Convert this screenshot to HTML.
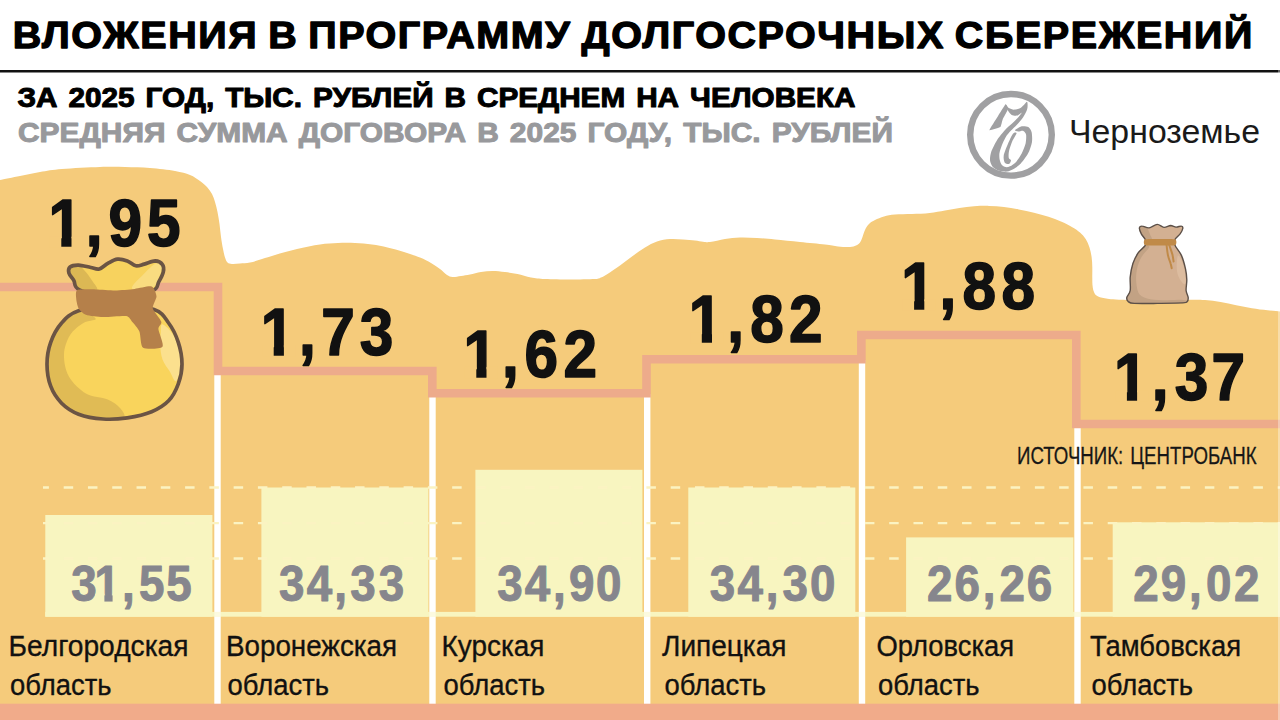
<!DOCTYPE html>
<html lang="ru">
<head>
<meta charset="utf-8">
<title>Вложения в программу долгосрочных сбережений</title>
<style>
html,body{margin:0;padding:0;background:#fff;}
body{width:1280px;height:720px;overflow:hidden;position:relative;font-family:"Liberation Sans",sans-serif;}
svg{display:block;position:absolute;left:0;top:0;}
text{font-family:"Liberation Sans",sans-serif;}
.b{font-weight:bold;}
.hv{paint-order:stroke fill;stroke-linejoin:round;}
#sub1,#sub2{word-spacing:2.5px;}
</style>
</head>
<body>
<svg width="1280" height="720" viewBox="0 0 1280 720">
<!-- sand background -->
<path id="sand" fill="#f5cb7b" d="M0,180 C3.3,179.3 13.3,177.3 20,176 C26.7,174.7 33,173.2 40,172 C47,170.8 52,169.8 62,169 C72,168.2 89.5,167.3 100,167 C110.5,166.7 116.7,166.8 125,167 C133.3,167.2 141.7,167.3 150,168 C158.3,168.7 168.3,169.8 175,171 C181.7,172.2 185.8,173.3 190,175 C194.2,176.7 197.2,179 200,181 C202.8,183 205,184.8 207,187 C209,189.2 210.7,191.5 212,194 C213.3,196.5 214.1,199 215,202 C215.9,205 216.8,208.3 217.5,212 C218.2,215.7 218.9,219.8 219.5,224 C220.1,228.2 220.4,232.8 221,237 C221.6,241.2 222.3,245.6 223,249 C223.7,252.4 224.2,255.2 225,257.5 C225.8,259.8 226.3,261.4 227.5,262.5 C228.7,263.6 229.9,263.8 232,264 C234.1,264.2 237,263.8 240,263.5 C243,263.2 246.3,263.2 250,262.5 C253.7,261.8 257.8,260.2 262,259 C266.2,257.8 269.2,256.7 275,255 C280.8,253.3 289.5,250.8 297,249 C304.5,247.2 313.2,245.5 320,244.5 C326.8,243.5 332.2,243.2 338,243 C343.8,242.8 349.3,242.8 355,243 C360.7,243.2 366.6,243.8 372,244.5 C377.4,245.2 382.2,246.2 387.5,247.5 C392.8,248.8 398.6,250.3 404,252 C409.4,253.7 415.5,255.7 420,257.5 C424.5,259.3 427.7,261.1 431,263 C434.3,264.9 437.3,267 440,269 C442.7,271 444.9,273.7 447,275 C449.1,276.3 450.2,276.8 452.5,277 C454.8,277.2 458.1,276.4 461,276 C463.9,275.6 466.7,275.2 470,274.5 C473.3,273.8 477.2,272.6 481,272 C484.8,271.4 488.5,271 492.5,271 C496.5,271 500.8,271.5 505,272 C509.2,272.5 513.2,273.1 517.5,274 C521.8,274.9 526.4,276.7 531,277.5 C535.6,278.3 538.5,278.7 545,279 C551.5,279.3 561.7,279.5 570,279.5 C578.3,279.5 589.8,279.3 595,279 C600.2,278.7 598.9,278.3 601,277.5 C603.1,276.7 604.3,276 607.5,274 C610.7,272 615.9,268.4 620,265.5 C624.1,262.6 627.8,259.5 632,256.5 C636.2,253.5 640.8,250 645,247.5 C649.2,245 652.8,242.9 657,241.5 C661.2,240.1 665.7,239.3 670,239 C674.3,238.7 678.8,239.2 683,239.5 C687.2,239.8 691.7,240.1 695,240.5 C698.3,240.9 700.5,241.4 703,241.7 C705.5,241.9 706.3,242.4 710,242 C713.7,241.6 720,239.8 725,239 C730,238.2 734.7,237.7 740,237.5 C745.3,237.3 751.2,237.7 757,238 C762.8,238.3 767.8,238.8 775,239.5 C782.2,240.2 791.7,241.2 800,242 C808.3,242.8 818.7,243.8 825,244.5 C831.3,245.2 833.8,246.1 838,246.5 C842.2,246.9 847,247.2 850,247 C853,246.8 854.3,246.2 856,245.5 C857.7,244.8 858.9,243.9 860,242.5 C861.1,241.1 861.7,239.1 862.5,237 C863.3,234.9 863.9,232.2 865,230 C866.1,227.8 867.3,225.7 869,224 C870.7,222.3 872.5,221.2 875,220 C877.5,218.8 880.7,217.4 884,216.5 C887.3,215.6 890.3,214.9 895,214.5 C899.7,214.1 906.2,214.2 912,214 C917.8,213.8 924.2,213.6 929.7,213 C935.2,212.4 940,211.3 945,210.5 C950,209.7 954.6,208.7 959.4,208 C964.2,207.3 969.1,206.7 974,206.3 C978.9,206 984,205.8 989,205.9 C994,206 999,206.4 1004,207 C1009,207.6 1013.8,208.4 1018.8,209.4 C1023.8,210.4 1029,211.6 1034,212.8 C1039,214 1044,215.4 1048.5,216.8 C1053,218.2 1057,219.8 1061,221.5 C1065,223.2 1069.1,225.4 1072.3,227.2 C1075.5,229 1077.8,230.5 1080,232.5 C1082.2,234.5 1084.1,236.6 1085.7,239.1 C1087.3,241.6 1088.5,244.5 1089.5,247.5 C1090.5,250.5 1091.1,253.8 1091.6,257 C1092.1,260.2 1092.2,263.5 1092.3,267 C1092.4,270.5 1092.2,274.8 1092.3,278 C1092.3,281.2 1092.3,283.8 1092.6,286 C1092.8,288.2 1093.1,289.9 1093.8,291.5 C1094.5,293.1 1094.9,294.4 1096.5,295.5 C1098.1,296.6 1099.7,297.4 1103.4,298.1 C1107.2,298.8 1109.6,299.4 1119,299.7 C1128.4,300 1148.3,300 1160,300 C1171.7,300 1181.9,299.7 1189.4,299.7 C1196.9,299.7 1199.8,299.6 1205,300 C1210.2,300.4 1215.4,301.1 1220.6,302 C1225.8,302.9 1231,304.1 1236.2,305.2 C1241.5,306.2 1246.7,307.4 1251.9,308.3 C1257.1,309.2 1262.8,309.8 1267.5,310.3 C1272.2,310.9 1277.9,311.4 1280,311.6 L1280,720 L0,720 Z"/>

<!-- header -->
<rect x="0" y="70" width="1280" height="2.5" fill="#111"/>
<text id="title" class="b hv" style="word-spacing:-2.5px" transform="translate(12.8,48.3) scale(1.05,1)" x="0" y="0" font-size="37.600" fill="#000" stroke="#000" stroke-width="1.300" textLength="1180.5" lengthAdjust="spacing">ВЛОЖЕНИЯ В ПРОГРАММУ ДОЛГОСРОЧНЫХ СБЕРЕЖЕНИЙ</text>
<text id="sub1" class="b hv" x="17.5" y="107.400" font-size="27.200" fill="#000" stroke="#000" stroke-width="1" textLength="838" lengthAdjust="spacingAndGlyphs">ЗА 2025 ГОД, ТЫС. РУБЛЕЙ В СРЕДНЕМ НА ЧЕЛОВЕКА</text>
<text id="sub2" class="b hv" x="18" y="142.400" font-size="27.200" fill="#98999c" stroke="#98999c" stroke-width="1" textLength="875" lengthAdjust="spacingAndGlyphs">СРЕДНЯЯ СУММА ДОГОВОРА В 2025 ГОДУ, ТЫС. РУБЛЕЙ</text>

<!-- logo emblem (graphic mark inside a ring) + wordmark as live text -->
<g id="logo">
<circle cx="1011" cy="134.800" r="40.800" fill="none" stroke="#a0a0a2" stroke-width="6.400"/>
<g fill="#a0a0a2">
<path d="M1005.6,104.2 C1004.9,104.7 998.6,114.9 997.6,116.7 C996.5,118.4 989.3,129.5 989.4,130.2 C989.6,130.9 999.5,127.8 1000.3,127.1 C1001.2,126.4 1002,120.9 1002.6,119.7 C1003.1,118.5 1007.8,110.1 1008,109.1 C1008.2,108.1 1006.3,103.7 1005.6,104.2 Z"/>
<path d="M1005.6,104.4 C1005.7,104.2 1007.8,107.3 1008.9,108 C1010,108.7 1012.5,109.6 1013.9,109.7 C1015.3,109.7 1018.1,109.2 1019.4,108.6 C1020.8,107.9 1022.9,105.8 1023.9,104.9 C1024.9,104 1026.8,101.3 1027.2,101.9 C1027.7,102.5 1027.8,107 1027.2,109.1 C1026.7,111.2 1024.4,115.4 1023,117.4 C1021.6,119.5 1018.5,122.9 1016.9,124.7 C1015.3,126.4 1012.3,129.1 1010.8,130.8 C1009.3,132.4 1007,134.9 1005.8,136.9 C1004.6,138.9 1002.5,143.6 1001.7,145.8 C1000.8,148 999.7,151.7 999.4,153.6 C999.2,155.4 999.4,158.2 999.7,159.7 C1000,161.1 1000.9,163.7 1001.7,164.7 C1002.5,165.7 1004.4,166.9 1005.6,167.1 C1006.7,167.3 1008.6,167 1010,166.3 C1011.4,165.6 1014.6,163.6 1016.1,161.9 C1017.7,160.2 1020.4,156 1021.7,153.6 C1022.9,151.1 1025,146.1 1025.6,143.6 C1026.1,141 1026.4,136.4 1026.1,134.7 C1025.8,133 1024.4,131.3 1023.3,130.9 C1022.3,130.5 1019.4,131.6 1018.3,131.6 C1017.2,131.5 1014.6,130.9 1015,130.2 C1015.4,129.5 1019.9,126.7 1021.7,126.3 C1023.4,125.9 1027,126.3 1028.3,127.1 C1029.7,127.9 1031.2,130.4 1031.7,132.4 C1032.1,134.5 1032.4,139.6 1031.9,142.4 C1031.4,145.3 1029.5,150.7 1028,153.6 C1026.5,156.4 1022.7,161.5 1020.8,163.6 C1018.9,165.6 1015.4,168 1013.6,169.1 C1011.7,170.2 1009.1,171.3 1007.2,171.6 C1005.3,171.8 1001.4,171.4 999.4,170.8 C997.5,170.2 994,168.3 992.8,166.9 C991.5,165.5 990.2,162.3 990,160.2 C989.8,158.1 990.5,154 991.4,151.3 C992.4,148.7 995.2,143 997,140.2 C998.8,137.4 1002.7,132.5 1004.8,130.2 C1006.9,127.9 1010.8,124.7 1012.6,123 C1014.3,121.3 1016.9,118.8 1018.1,117.4 C1019.3,116.1 1021.8,112.9 1021.7,112.7 C1021.5,112.4 1018.6,115.2 1017.2,115.6 C1015.9,115.9 1013,115.7 1011.7,115 C1010.4,114.3 1008.4,111.4 1007.6,110 C1006.7,108.6 1005.4,104.7 1005.6,104.4 Z"/>
<path d="M1013,133.8 C1011.8,135.2 1009.1,141.2 1007.9,144.1 C1006.6,147 1004.1,153.3 1003.7,155.8 C1003.3,158.3 1004.1,161.6 1004.8,162.7 C1005.5,163.8 1008.2,164.3 1009,164 C1009.8,163.7 1011,161.2 1011,160.4 C1011,159.6 1009,159.2 1008.8,158 C1008.5,156.8 1008.5,153.6 1009,151.3 C1009.5,149.1 1011.3,143.7 1012.3,141.3 C1013.3,138.9 1016.5,134.3 1016.6,133.3 C1016.6,132.3 1014.2,132.3 1013,133.8 Z"/>
</g>
<text x="1069" y="143" font-size="33" fill="#1a1a1a" textLength="191" lengthAdjust="spacingAndGlyphs">Черноземье</text>
</g>

<!-- white dividers -->
<g fill="#fff">
<rect x="214.300" y="372" width="6.400" height="332"/>
<rect x="429.300" y="394" width="6.400" height="310"/>
<rect x="644" y="394" width="6.400" height="310"/>
<rect x="858.800" y="360" width="6.400" height="344"/>
<rect x="1074.300" y="425" width="6.400" height="279"/>
</g>

<!-- light bars -->
<g fill="#f8f5c0">
<rect x="45.3" y="515" width="167.1" height="101.7"/>
<rect x="261.4" y="487.5" width="167" height="129.2"/>
<rect x="475.4" y="469.8" width="167" height="146.9"/>
<rect x="688.3" y="487.5" width="167" height="129.2"/>
<rect x="906.1" y="537.4" width="167.3" height="79.3"/>
<rect x="1112.7" y="522.3" width="167.3" height="94.4"/>

</g>
<rect x="45.300" y="611.900" width="1234.700" height="4.800" fill="#f8f5c0"/>
<g fill="#fff" opacity="0.5"><rect x="214.300" y="611.900" width="6.400" height="4.800"/><rect x="429.300" y="611.900" width="6.400" height="4.800"/><rect x="644" y="611.900" width="6.400" height="4.800"/><rect x="858.800" y="611.900" width="6.400" height="4.800"/><rect x="1074.300" y="611.900" width="6.400" height="4.800"/></g>
<g stroke="#fbf3c2" stroke-width="2.400" stroke-dasharray="9.500 14.780" stroke-dashoffset="3.600">
<line x1="43" y1="487.500" x2="1280" y2="487.500"/>
<line x1="43" y1="523.100" x2="1280" y2="523.100"/>
<line x1="43" y1="558.500" x2="1280" y2="558.500"/>
</g>

<!-- pink step line -->
<path fill="none" stroke="#edab8b" stroke-width="8.600" stroke-linejoin="miter" d="M-5,287 H218 V371 H432.300 V393.300 H646.500 V359.300 H861.400 V335 H1076.300 V424 H1285"/>

<!-- bottom strip -->
<rect x="0" y="703.700" width="1280" height="17" fill="#f1ab8a"/>

<rect x="1278" y="0" width="2" height="720" fill="#fff" opacity="0.35"/>

<!-- big money bag -->
<g id="bag">
<path d="M79.9,290.1 C73,287.1 75.6,283.2 73.8,280.4 C72,277.6 69.5,275.3 68.9,273.1 C68.3,270.9 68.5,268.4 70.1,267 C71.7,265.7 75.2,265 78.6,265.1 C82.1,265.2 87.4,266.9 90.8,267.5 C94.2,268.2 96.5,269.7 99.3,269 C102.1,268.3 104.8,265 107.8,263.4 C110.9,261.8 114.3,259.6 117.5,259.2 C120.8,258.8 124.2,259.8 127.3,260.9 C130.3,262 133,265.3 135.8,265.8 C138.6,266.3 141.1,264.9 144.3,264.1 C147.5,263.3 152.2,260.9 155.2,260.9 C158.3,261 161.2,262.8 162.5,264.6 C163.9,266.4 163.9,269 163.3,271.9 C162.7,274.7 160.8,278.4 158.9,281.6 C156.9,284.9 158.9,288.5 151.6,291.3 C144.3,294.2 127.1,298.8 115.1,298.6 C103.2,298.4 86.7,293.2 79.9,290.1 Z" fill="#f7d25e"/>
<path d="M70.1,269.5 C71.7,268.2 76.2,265.8 78.6,266.1 C81.1,266.3 82.5,268.3 84.7,270.7 C86.9,273.1 90,277.2 92,280.4 C94,283.6 98.9,288.5 96.9,290.1 C94.9,291.7 83.7,291.7 79.9,290.1 C76,288.5 75.5,283.1 73.8,280.4 C72,277.7 70,275.7 69.4,273.8 C68.8,272 68.6,270.8 70.1,269.5 Z" fill="#dcb854"/>
<path d="M132.1,288.4 C130.7,286.1 139.4,278.7 143.3,274.6 C147.3,270.4 152.6,265 155.7,263.6 C158.9,262.2 161.4,264.3 162.1,266.3 C162.7,268.3 161.3,272.1 159.6,275.8 C157.9,279.5 156.4,286.3 151.8,288.4 C147.3,290.5 133.6,290.7 132.1,288.4 Z" fill="#f9dc80"/>
<path d="M79.9,290.1 C73,287.1 75.6,283.2 73.8,280.4 C72,277.6 69.5,275.3 68.9,273.1 C68.3,270.9 68.5,268.4 70.1,267 C71.7,265.7 75.2,265 78.6,265.1 C82.1,265.2 87.4,266.9 90.8,267.5 C94.2,268.2 96.5,269.7 99.3,269 C102.1,268.3 104.8,265 107.8,263.4 C110.9,261.8 114.3,259.6 117.5,259.2 C120.8,258.8 124.2,259.8 127.3,260.9 C130.3,262 133,265.3 135.8,265.8 C138.6,266.3 141.1,264.9 144.3,264.1 C147.5,263.3 152.2,260.9 155.2,260.9 C158.3,261 161.2,262.8 162.5,264.6 C163.9,266.4 163.9,269 163.3,271.9 C162.7,274.7 160.8,278.4 158.9,281.6 C156.9,284.9 158.9,288.5 151.6,291.3 C144.3,294.2 127.1,298.8 115.1,298.6 C103.2,298.4 86.7,293.2 79.9,290.1 Z" fill="none" stroke="#6b5444" stroke-width="3.700" stroke-linejoin="round"/>
<path d="M78.6,310.8 C69.7,313.8 66.3,317.7 61.6,323 C57,328.2 53.1,335.5 50.7,342.4 C48.2,349.3 47,357 47,364.3 C47,371.6 48.2,379.7 50.7,386.2 C53.1,392.7 57,398.5 61.6,403.2 C66.3,407.9 71.7,411.5 78.6,414.2 C85.5,416.8 94.9,418.4 103,419 C111.1,419.6 119.2,419 127.3,417.8 C135.4,416.6 144.7,414.6 151.6,411.7 C158.5,408.9 164.2,405.4 168.6,400.8 C173.1,396.1 176.1,389.8 178.3,383.8 C180.6,377.7 182,371.2 182,364.3 C182,357.4 180.6,349.3 178.3,342.4 C176.1,335.5 172.7,328.4 168.6,323 C164.6,317.5 162.9,312.6 154,309.6 C145.1,306.5 127.7,304.5 115.1,304.7 C102.6,304.9 87.6,307.8 78.6,310.8 Z" fill="#f9d45c"/>
<path d="M78.6,310.8 C74.2,312.3 66.3,317.7 61.6,323 C57,328.2 53.1,335.5 50.7,342.4 C48.2,349.3 47,357 47,364.3 C47,371.6 48.2,379.7 50.7,386.2 C53.1,392.7 57,398.5 61.6,403.2 C66.3,407.9 71.7,411.5 78.6,414.2 C85.5,416.8 95.5,418.4 103,419 C110.5,419.6 120.8,419.6 123.6,417.8 C126.5,416 122.6,411.1 120,408.1 C117.3,405 113.5,402 107.8,399.6 C102.1,397.1 92.4,397.3 85.9,393.5 C79.4,389.6 72.6,382.9 68.9,376.5 C65.3,370 63.8,361.5 64,354.6 C64.2,347.7 66.9,340.4 70.1,335.1 C73.4,329.8 79.2,325.6 83.5,323 C87.8,320.3 94.9,320.8 95.7,319.3 C96.5,317.8 91.2,315.1 88.4,313.7 C85.5,312.3 83.1,309.3 78.6,310.8 Z" fill="#e0bb55"/>
<path d="M162.5,324.2 C164.6,324.6 170.6,330.5 173.5,335.1 C176.3,339.8 178.3,346.9 179.6,352.1 C180.8,357.4 181.4,361.9 180.8,366.7 C180.2,371.6 177.7,380.5 175.9,381.3 C174.1,382.1 172.1,375.2 169.8,371.6 C167.6,367.9 164.2,363.9 162.5,359.4 C160.9,355 160.4,349.3 160.1,344.8 C159.8,340.4 160.4,336.1 160.8,332.7 C161.2,329.2 160.4,323.8 162.5,324.2 Z" fill="#fbe08e"/>
<path d="M78.6,310.8 C69.7,313.8 66.3,317.7 61.6,323 C57,328.2 53.1,335.5 50.7,342.4 C48.2,349.3 47,357 47,364.3 C47,371.6 48.2,379.7 50.7,386.2 C53.1,392.7 57,398.5 61.6,403.2 C66.3,407.9 71.7,411.5 78.6,414.2 C85.5,416.8 94.9,418.4 103,419 C111.1,419.6 119.2,419 127.3,417.8 C135.4,416.6 144.7,414.6 151.6,411.7 C158.5,408.9 164.2,405.4 168.6,400.8 C173.1,396.1 176.1,389.8 178.3,383.8 C180.6,377.7 182,371.2 182,364.3 C182,357.4 180.6,349.3 178.3,342.4 C176.1,335.5 172.7,328.4 168.6,323 C164.6,317.5 162.9,312.6 154,309.6 C145.1,306.5 127.7,304.5 115.1,304.7 C102.6,304.9 87.6,307.8 78.6,310.8 Z" fill="none" stroke="#6b5444" stroke-width="3.700" stroke-linejoin="round"/>
<path d="M77.4,290.1 C79.7,289 91.3,289.4 95.7,289.4 C100.1,289.4 110.6,290.4 115.1,290.4 C119.7,290.3 130.3,289.4 134.6,288.9 C138.8,288.5 149,285.6 151.6,286.5 C154.1,287.3 156.3,293.7 156.5,296.2 C156.6,298.8 152.2,305.4 152.8,308.4 C153.4,311.3 160.7,319.3 161.3,321.7 C162,324.2 158.3,326.1 158.4,329 C158.5,332 164.3,344.6 162.5,346.8 C160.8,349 145.8,349.6 143.1,347.8 C140.4,346 140.7,334.5 139.4,331.5 C138.2,328.4 133.7,323.5 132.1,321.7 C130.6,320 129.5,316.7 126.1,316.1 C122.7,315.6 107.6,317.3 103,317.1 C98.3,317 88.8,315.7 85.9,314.7 C83.1,313.7 79.8,310.2 78.6,308.4 C77.5,306.5 76.3,300.8 76.2,298.6 C76.1,296.5 75.2,291.2 77.4,290.1 Z" fill="#b5804a"/>
</g>

<!-- small sack -->
<g id="sack">
<path d="M1139.4,227.8 C1139.6,226.5 1140.7,226 1142.3,226.1 C1144,226.1 1146.6,228.2 1149.1,227.9 C1151.6,227.7 1154.7,224.5 1157.2,224.4 C1159.6,224.3 1161.7,227.2 1163.9,227.4 C1166.2,227.6 1168.6,225.6 1170.6,225.5 C1172.7,225.5 1174.2,227 1176,227.1 C1177.8,227.2 1180.3,225.8 1181.4,226.1 C1182.6,226.3 1183,227.2 1182.8,228.5 C1182.6,229.8 1181.4,232 1180.1,233.9 C1178.8,235.7 1175.8,237.6 1175,239.5 C1174.1,241.4 1173.9,242.7 1175,245.3 C1176,248 1179.7,251.5 1181.4,255.4 C1183.2,259.4 1184.6,264.9 1185.5,268.9 C1186.4,273 1186.7,276.1 1186.8,279.7 C1186.9,283.3 1185.9,287.5 1186.1,290.5 C1186.4,293.4 1188,295.6 1188.2,297.5 C1188.3,299.3 1188.1,300.6 1187.2,301.5 C1186.3,302.4 1187.8,302.6 1182.8,302.9 C1177.8,303.2 1165.3,303.3 1157.2,303.4 C1149.1,303.5 1139.1,303.7 1134.3,303.4 C1129.4,303.1 1129.4,302.5 1128.2,301.5 C1127,300.5 1126.5,299.3 1126.8,297.5 C1127.2,295.6 1129.7,293.9 1130.2,290.5 C1130.8,287.1 1129.8,281.5 1130.2,277 C1130.7,272.5 1131.6,267.6 1132.9,263.5 C1134.3,259.5 1136.2,255.8 1138.3,252.7 C1140.4,249.7 1144.1,247.5 1145.3,245.3 C1146.5,243.1 1146,241.4 1145.3,239.5 C1144.6,237.6 1142.3,235.8 1141.3,233.9 C1140.3,231.9 1139.2,229.1 1139.4,227.8 Z" fill="#d3b092"/>
<path d="M1145.3,245.3 C1143.5,246.2 1140.4,249.7 1138.3,252.7 C1136.2,255.8 1134.3,259.5 1132.9,263.5 C1131.6,267.6 1130.7,272.5 1130.2,277 C1129.8,281.5 1130.8,287.1 1130.2,290.5 C1129.7,293.9 1127.2,295.6 1126.8,297.5 C1126.5,299.3 1127,300.5 1128.2,301.5 C1129.4,302.5 1129.4,303.1 1134.3,303.4 C1139.1,303.7 1149.1,303.5 1157.2,303.4 C1165.3,303.3 1177.8,303.2 1182.8,302.9 C1187.8,302.5 1187.2,301.7 1187.2,301.3 C1187.2,300.8 1186.2,300.1 1182.8,299.9 C1179.3,299.7 1172,300.3 1166.6,300.2 C1161.2,300.1 1154.9,300.2 1150.4,299.2 C1145.9,298.3 1142,297.3 1139.6,294.5 C1137.3,291.7 1136.7,286.7 1136.3,282.4 C1135.8,278.1 1136.1,273.2 1137,268.9 C1137.9,264.6 1139.6,260.4 1141.7,256.8 C1143.7,253.2 1148.5,249.3 1149.1,247.3 C1149.7,245.4 1147.1,244.4 1145.3,245.3 Z" fill="#c2a284"/>
<path d="M1178.1,255.4 C1179.1,255 1181.6,260.4 1182.8,263.5 C1184,266.7 1184.8,270.9 1185.2,274.3 C1185.7,277.7 1186,282.4 1185.5,283.7 C1185,285.1 1183.3,283.7 1182.1,282.4 C1180.9,281 1179,278.3 1178.1,275.6 C1177.2,273 1176.7,269.6 1176.7,266.2 C1176.7,262.8 1177,255.9 1178.1,255.4 Z" fill="#dcbc9f"/>
<path d="M1139.9,227.9 C1140.1,226.7 1141.2,226.3 1142.3,226.3 C1143.5,226.3 1145.7,226.5 1147.1,227.9 C1148.4,229.4 1149.6,233.3 1150.4,235.2 C1151.2,237.1 1152.6,238.8 1151.8,239.5 C1150.9,240.2 1147.1,240.5 1145.3,239.5 C1143.6,238.6 1142.2,235.8 1141.3,233.9 C1140.4,231.9 1139.7,229.2 1139.9,227.9 Z" fill="#c2a284"/>
<path d="M1139.4,227.8 C1139.6,226.5 1140.7,226 1142.3,226.1 C1144,226.1 1146.6,228.2 1149.1,227.9 C1151.6,227.7 1154.7,224.5 1157.2,224.4 C1159.6,224.3 1161.7,227.2 1163.9,227.4 C1166.2,227.6 1168.6,225.6 1170.6,225.5 C1172.7,225.5 1174.2,227 1176,227.1 C1177.8,227.2 1180.3,225.8 1181.4,226.1 C1182.6,226.3 1183,227.2 1182.8,228.5 C1182.6,229.8 1181.4,232 1180.1,233.9 C1178.8,235.7 1175.8,237.6 1175,239.5 C1174.1,241.4 1173.9,242.7 1175,245.3 C1176,248 1179.7,251.5 1181.4,255.4 C1183.2,259.4 1184.6,264.9 1185.5,268.9 C1186.4,273 1186.7,276.1 1186.8,279.7 C1186.9,283.3 1185.9,287.5 1186.1,290.5 C1186.4,293.4 1188,295.6 1188.2,297.5 C1188.3,299.3 1188.1,300.6 1187.2,301.5 C1186.3,302.4 1187.8,302.6 1182.8,302.9 C1177.8,303.2 1165.3,303.3 1157.2,303.4 C1149.1,303.5 1139.1,303.7 1134.3,303.4 C1129.4,303.1 1129.4,302.5 1128.2,301.5 C1127,300.5 1126.5,299.3 1126.8,297.5 C1127.2,295.6 1129.7,293.9 1130.2,290.5 C1130.8,287.1 1129.8,281.5 1130.2,277 C1130.7,272.5 1131.6,267.6 1132.9,263.5 C1134.3,259.5 1136.2,255.8 1138.3,252.7 C1140.4,249.7 1144.1,247.5 1145.3,245.3 C1146.5,243.1 1146,241.4 1145.3,239.5 C1144.6,237.6 1142.3,235.8 1141.3,233.9 C1140.3,231.9 1139.2,229.1 1139.4,227.8 Z" fill="none" stroke="#5c5048" stroke-width="1.400" stroke-linejoin="round"/>
<path d="M1145.3,239.3 C1147.3,238.9 1173,238.9 1175,239.3 C1176.9,239.7 1176.9,244.9 1175,245.3 C1173,245.7 1147.3,245.7 1145.3,245.3 C1143.3,244.9 1143.3,239.7 1145.3,239.3 Z" fill="#c08a48"/>
<path d="M1166.6,245.3 C1166.8,247 1167.3,252.4 1168,255.4 C1168.6,258.5 1170,261.4 1170.6,263.5 C1171.3,265.7 1171.5,267.4 1171.7,268.2" fill="none" stroke="#c08a48" stroke-width="2" stroke-linecap="round"/>
<path d="M1169.3,245.3 C1169.8,246.8 1171.5,251.4 1172.3,254.1 C1173,256.8 1173.4,260.3 1173.6,261.5" fill="none" stroke="#c08a48" stroke-width="2" stroke-linecap="round"/>
</g>

<!-- big numbers -->
<g class="b hv" font-size="67" fill="#111" stroke="#111" stroke-width="1.6">
<text transform="translate(0,246.3) scale(0.9,1)" x="53.8 95.2 120.7 163.3" y="0">1,95</text>
<text transform="translate(0,354.6) scale(0.9,1)" x="289.8 332.1 356.9 399.8" y="0">1,73</text>
<text transform="translate(0,376.5) scale(0.9,1)" x="514.9 557.7 582.8 626" y="0">1,62</text>
<text transform="translate(0,341.9) scale(0.9,1)" x="765.4 808 833.7 876.6" y="0">1,82</text>
<text transform="translate(0,309) scale(0.9,1)" x="1001.3 1043.9 1069.4 1112.7" y="0">1,88</text>
<text transform="translate(0,400.1) scale(0.9,1)" x="1237.8 1279.7 1305.3 1346.2" y="0">1,37</text>
</g>

<!-- grey numbers -->
<g class="b hv" font-size="49.2" fill="#86868d" stroke="#86868d" stroke-width="1">
<text transform="translate(0,601) scale(0.93,1)" x="76.5 101.6 131.3 149.5 178.8" y="0">31,55</text>
<text transform="translate(0,601) scale(0.93,1)" x="300.1 329.8 359.5 376.7 407.3" y="0">34,33</text>
<text transform="translate(0,601) scale(0.93,1)" x="534.6 564.3 594.6 611.9 640.9" y="0">34,90</text>
<text transform="translate(0,601) scale(0.93,1)" x="763.3 793 823.3 841.5 870.9" y="0">34,30</text>
<text transform="translate(0,601) scale(0.93,1)" x="996.8 1026.3 1056.8 1074.7 1104" y="0">26,26</text>
<text transform="translate(0,601) scale(0.93,1)" x="1218.6 1248.2 1278.6 1296.7 1326.9" y="0">29,02</text>
</g>

<!-- trim digit feet so the numeral 1 reads as a plain stroke -->
<g id="trim">
<rect x="49.9" y="236.7" width="11.4" height="11.2" fill="#f5cb7b"/>
<rect x="71.5" y="236.7" width="11.4" height="11.2" fill="#f5cb7b"/>
<rect x="262.3" y="345" width="11.4" height="11.2" fill="#f5cb7b"/>
<rect x="283.9" y="345" width="11.4" height="11.2" fill="#f5cb7b"/>
<rect x="464.9" y="366.9" width="11.4" height="11.2" fill="#f5cb7b"/>
<rect x="486.5" y="366.9" width="11.4" height="11.2" fill="#f5cb7b"/>
<rect x="690.4" y="332.3" width="11.4" height="11.2" fill="#f5cb7b"/>
<rect x="712" y="332.3" width="11.4" height="11.2" fill="#f5cb7b"/>
<rect x="902.7" y="299.4" width="11.4" height="11.2" fill="#f5cb7b"/>
<rect x="924.3" y="299.4" width="11.4" height="11.2" fill="#f5cb7b"/>
<rect x="1115.5" y="390.5" width="11.4" height="11.2" fill="#f5cb7b"/>
<rect x="1137.1" y="390.5" width="11.4" height="11.2" fill="#f5cb7b"/>
<rect x="95.3" y="593.7" width="9.1" height="8.6" fill="#f8f5c0"/>
<rect x="112.6" y="593.7" width="8.1" height="8.6" fill="#f8f5c0"/>
</g>

<!-- source -->
<text class="hv" x="1017" y="464.200" font-size="24.300" fill="#161616" stroke="#161616" stroke-width="0.300" style="word-spacing:2.5px" textLength="239.500" lengthAdjust="spacingAndGlyphs">ИСТОЧНИК: ЦЕНТРОБАНК</text>

<!-- labels -->
<g class="hv" font-size="30.100" fill="#111" stroke="#111" stroke-width="0.350">
<text x="8.500" y="655.500" textLength="180" lengthAdjust="spacingAndGlyphs">Белгородская</text>
<text x="10" y="695.300" textLength="101.5" lengthAdjust="spacingAndGlyphs">область</text>
<text x="226" y="655.500" textLength="171" lengthAdjust="spacingAndGlyphs">Воронежская</text>
<text x="227.5" y="695.300" textLength="101.5" lengthAdjust="spacingAndGlyphs">область</text>
<text x="441.500" y="655.500" textLength="103" lengthAdjust="spacingAndGlyphs">Курская</text>
<text x="443.5" y="695.300" textLength="101.5" lengthAdjust="spacingAndGlyphs">область</text>
<text x="662" y="655.500" textLength="124.500" lengthAdjust="spacingAndGlyphs">Липецкая</text>
<text x="664.5" y="695.300" textLength="101.5" lengthAdjust="spacingAndGlyphs">область</text>
<text x="876.500" y="655.500" textLength="137.500" lengthAdjust="spacingAndGlyphs">Орловская</text>
<text x="878" y="695.300" textLength="101.5" lengthAdjust="spacingAndGlyphs">область</text>
<text x="1090" y="655.500" textLength="151" lengthAdjust="spacingAndGlyphs">Тамбовская</text>
<text x="1091.5" y="695.300" textLength="101.5" lengthAdjust="spacingAndGlyphs">область</text>
</g>
</svg>
</body>
</html>
